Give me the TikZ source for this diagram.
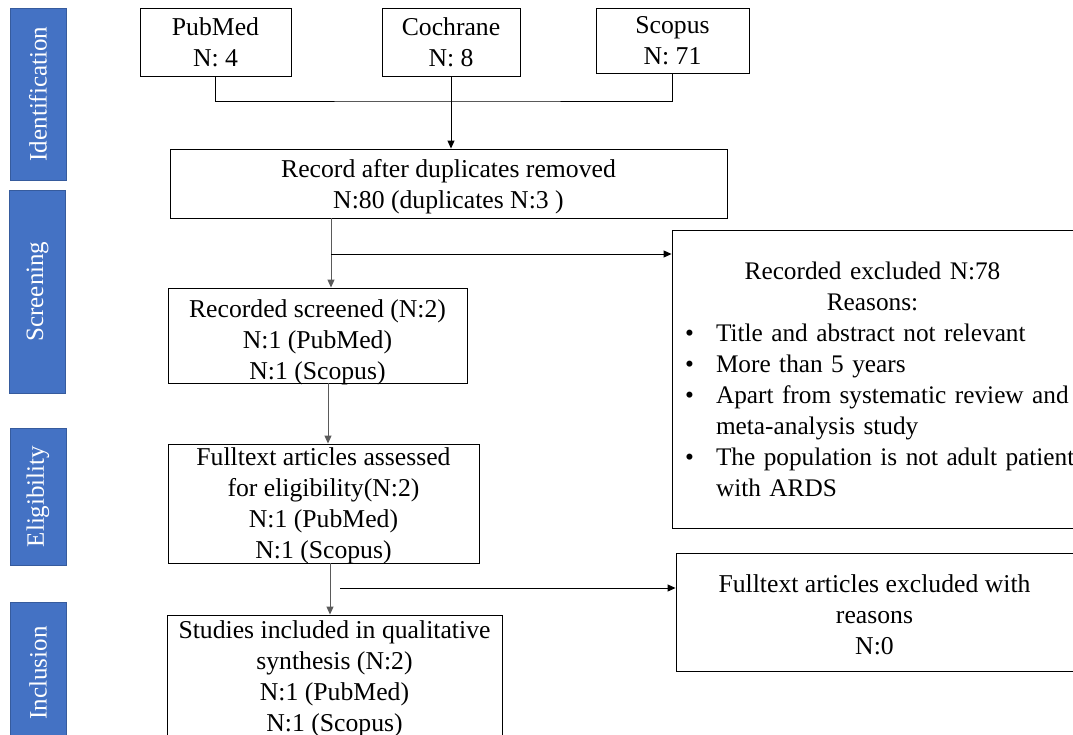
\documentclass[tikz,border=0pt]{standalone}
\usepackage{fontspec}
\setmainfont{Liberation Serif}
\usepackage{tikz}
\usetikzlibrary{arrows.meta, positioning, calc}
\definecolor{phaseblue}{HTML}{4472C4}
\definecolor{flowgrey}{HTML}{5A5A5A}
\tikzset{
  flowbox/.style={draw=black, line width=0.9pt, fill=white, align=center,
    inner sep=0pt, font=\fontsize{25.7}{31}\selectfont},
  textdrop/.style={text depth=0pt, text height=#1},
  phasebar/.style={draw=phaseblue!80!black, line width=0.6pt, fill=phaseblue,
    text=white, rotate=90, inner sep=0pt, minimum height=56pt,
    font=\fontsize{25}{31}\selectfont},
  flowline/.style={line width=0.9pt, black},
  flowarrow/.style={line width=0.9pt, -{Triangle[length=8pt,width=7pt]}},
}
\newcommand{\bulletitem}[1]{{\hangindent=36pt\hangafter=1\noindent\hspace*{5pt}\makebox[31pt][l]{\textbullet}#1\par}}
\begin{document}
\begin{tikzpicture}[x=1pt, y=1pt]
      \useasboundingbox (0,0) rectangle (1073,-734);
      \node[phasebar, minimum width=172pt] (ident) at (38,-94) {Identification};
      \node[phasebar, minimum width=203pt] (screen) at (37.5,-291.5) {Screening};
      \node[phasebar, minimum width=137pt] (elig) at (38,-496.5) {Eligibility};
      \node[phasebar, minimum width=142pt] (incl) at (38,-673) {Inclusion};

      \node[flowbox, minimum width=151pt, minimum height=68pt] (pubmed) at (215.5,-42) {PubMed\\N: 4};
      \node[flowbox, minimum width=138pt, minimum height=68pt] (cochrane) at (451,-42) {Cochrane\\N: 8};
      \node[flowbox, minimum width=153pt, minimum height=65pt] (scopus) at (672.5,-40.5) {Scopus\\N: 71};
      \node[flowbox, text depth=-2pt, minimum width=557pt, minimum height=69pt] (dedup) at (448.5,-183.5)
            {Record after duplicates removed\\N:80 (duplicates N:3 )};
      \node[flowbox, textdrop=88pt, minimum width=299pt, minimum height=95pt] (screened) at (317.5,-335.5)
            {Recorded screened (N:2)\\N:1 (PubMed)\\N:1 (Scopus)};
      \node[flowbox, minimum width=401pt, minimum height=298pt, text width=385pt,
            align=left, inner xsep=8pt, font=\fontsize{25.3}{31}\selectfont] (excluded) at (872.5,-379)
            {{\centering Recorded excluded N:78\par Reasons:\par}
             \raggedright
             \bulletitem{Title and abstract not relevant}
             \bulletitem{More than 5 years}
             \bulletitem{\mbox{Apart from systematic review and}\newline meta-analysis study}
             \bulletitem{\mbox{The population is not adult patient}\newline with ARDS}};
      \node[flowbox, text depth=0pt, minimum width=311pt, minimum height=119pt] (assessed) at (323.5,-503.5)
            {Fulltext articles assessed\\for eligibility(N:2)\\N:1 (PubMed)\\N:1 (Scopus)};
      \node[flowbox, textdrop=85.6pt, minimum width=397pt, minimum height=118pt] (ftexcluded) at (874.5,-612)
            {Fulltext articles excluded with\\reasons\\N:0};
      \node[flowbox, minimum width=335pt, minimum height=128pt] (included) at (334.5,-679)
            {Studies included in qualitative\\synthesis (N:2)\\N:1 (PubMed)\\N:1 (Scopus)};

      \coordinate (merge) at (451,-101);
      \coordinate (screensplit) at (331,-254);
      \coordinate (eligline) at (328,-420);
      \coordinate (inclline) at (330,-590);
      \coordinate (inclsplit) at (340,-588);

      \draw[flowline] (pubmed.south) |- (merge) -| (scopus.south);
      \draw[flowarrow] (cochrane.south) -- (cochrane.south |- dedup.north);
      \draw[flowarrow, flowgrey] (screensplit |- dedup.south) -- (screensplit |- screened.north);
      \draw[flowarrow] (screensplit) -- (screensplit -| excluded.west);
      \draw[flowarrow, flowgrey] (eligline |- screened.south) -- (eligline |- assessed.north);
      \draw[flowarrow, flowgrey] (inclline |- assessed.south) -- (inclline |- included.north);
      \draw[flowarrow] (inclsplit) -- (inclsplit -| ftexcluded.west);
\end{tikzpicture}
\end{document}
